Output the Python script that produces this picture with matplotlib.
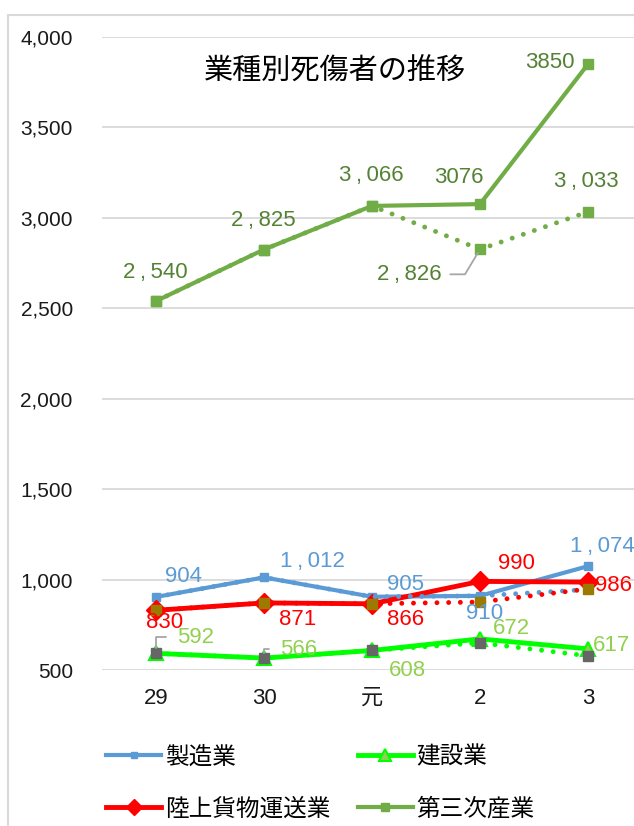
import numpy as np
import matplotlib.pyplot as plt
from matplotlib.patches import Rectangle
from matplotlib.ticker import FuncFormatter

plt.rcParams['font.family'] = ['Liberation Sans', 'Noto Sans CJK JP']

# ---------------- データ ----------------
years = ['29', '30', '元', '2', '3']

seizo = [904, 1012, 905, 910, 1074]
kensetsu = [592, 566, 608, 672, 617]
rikujo = [830, 871, 866, 990, 986]
sanji = [2540, 2825, 3066, 3076, 3850]

# 点線の系列
seizo_dot = [904, 1012, 905, 910, 945]
kensetsu_dot = [592, 566, 608, 650, 578]
rikujo_dot = [830, 871, 866, 876, 948]
sanji_dot = [2540, 2825, 3066, 2826, 3033]

names = ['製造業', '建設業', '陸上貨物運送業', '第三次産業']

# ラベル位置（マーカーからのずれ, px）
off_seizo = [(28, 20), (48, 16), (34, 12), (5, -18), (14, 20)]
off_kensetsu = [(41, 16), (36, 9), (35, -20), (31, 10), (24, 3)]
off_rikujo = [(9, -12), (34, -17), (34, -16), (36, 18), (26, -3)]
off_sanji = [(-1, 29), (-1, 29), (-1, 30), (-21, 27), (-38, 2)]
comma_sanji = [True, True, True, False, False]


def fmt(v, comma=True):
    if comma and v >= 1000:
        return '{:,}'.format(v).replace(',', '\u2009,\u2009')
    return str(v)


# ---------------- 描画 ----------------
fig = plt.figure(figsize=(6.34, 8.26), dpi=100)
ax = fig.add_axes([102/634, 1-670/826, 540/634, 633/826])
x = np.arange(len(years))

c_blue = '#5B9BD5'
c_lime = '#00FF00'
c_red = '#FF0000'
c_green = '#70AD47'
LS = 16

dot = (0, (0.01, 2.4))

l1, = ax.plot(x, seizo, color=c_blue, lw=3, marker='s', ms=6, zorder=3)
l2, = ax.plot(x, kensetsu, color=c_lime, lw=3.5, marker='^', ms=10,
              mfc='#92D050', mec=c_lime, mew=1.5, zorder=3)
l3, = ax.plot(x, rikujo, color=c_red, lw=3.5, marker='D', ms=10, zorder=3)
l4, = ax.plot(x, sanji, color=c_green, lw=3, marker='s', ms=7, zorder=3)

ax.plot(x, seizo_dot, color=c_blue, lw=3.5, ls=dot, dash_capstyle='round', zorder=4)
ax.plot(x, rikujo_dot, color=c_red, lw=3.5, ls=dot, dash_capstyle='round',
        marker='s', ms=7, mfc='#9C7A00', mec='#9C7A00', zorder=4)
ax.plot(x, kensetsu_dot, color=c_lime, lw=3.5, ls=dot, dash_capstyle='round',
        marker='s', ms=6.5, mfc='#666666', mec='#666666', zorder=4)
ax.plot(x, sanji_dot, color=c_green, lw=3.5, ls=dot, dash_capstyle='round',
        marker='s', ms=7, zorder=4)

# データラベル
def labels(vals, offs, color, commas=None):
    for i, (v, o) in enumerate(zip(vals, offs)):
        c = True if commas is None else commas[i]
        ax.annotate(fmt(v, c), (i, v), xytext=o, textcoords='offset pixels',
                    ha='center', va='center', fontsize=LS, color=color, zorder=6)

labels(seizo, off_seizo, c_blue)
labels(rikujo, off_rikujo, c_red)
labels(sanji, off_sanji, '#548235', comma_sanji)

# 建設業（29, 30 は引き出し線付き）
for i, (v, o) in enumerate(zip(kensetsu, off_kensetsu)):
    if i < 2:
        ax.annotate(fmt(v), (i, v), xytext=(o[0] - 20, o[1]), textcoords='offset pixels',
                    ha='left', va='center', fontsize=LS, color='#92D050', zorder=6,
                    arrowprops=dict(arrowstyle='-', color='#A6A6A6', lw=1.3,
                                    connectionstyle='angle,angleA=0,angleB=90,rad=0',
                                    relpos=(0, 0.5), shrinkA=6, shrinkB=4))
    else:
        ax.annotate(fmt(v), (i, v), xytext=o, textcoords='offset pixels',
                    ha='center', va='center', fontsize=LS, color='#92D050', zorder=6)

# 第三次産業 点線のラベル
ax.annotate(fmt(sanji_dot[3]), (3, sanji_dot[3]), xytext=(-38, -25), textcoords='offset pixels',
            ha='right', va='center', fontsize=LS, color='#548235', zorder=6,
            arrowprops=dict(arrowstyle='-', color='#A6A6A6', lw=1.3,
                            connectionstyle='angle,angleA=0,angleB=59,rad=0',
                            relpos=(1, 0.5), shrinkA=4, shrinkB=3))
ax.annotate(fmt(sanji_dot[4]), (4, sanji_dot[4]), xytext=(-2, 30), textcoords='offset pixels',
            ha='center', va='center', fontsize=LS, color='#548235', zorder=6)

# 軸
ax.set_xlim(-0.5, 4.5)
ax.set_ylim(500, 4000)
ax.set_yticks(range(500, 4001, 500))
ax.yaxis.set_major_formatter(FuncFormatter(lambda v, p: '{:,}'.format(int(v))))
ax.set_xticks(x)
ax.set_xticklabels(years)
ax.tick_params(axis='y', length=0, pad=21, labelsize=15, labelcolor='#1a1a1a')
ax.tick_params(axis='x', length=0, pad=13, labelsize=16, labelcolor='#1a1a1a')
ax.grid(axis='y', color='#D9D9D9', lw=1.3)
ax.set_axisbelow(True)
for s in ax.spines.values():
    s.set_visible(False)

fig.text(335/634, 1-72/826, '業種別死傷者の推移', ha='center', va='center', fontsize=21)

ax.legend([l1, l3, l2, l4], [names[0], names[2], names[1], names[3]], ncol=2,
          loc='upper left', bbox_to_anchor=(106/634, 1-746/826), bbox_transform=fig.transFigure,
          frameon=False, fontsize=17, handlelength=2.33, handletextpad=0.17,
          columnspacing=1.15, labelspacing=1.25, borderpad=0, borderaxespad=0,
          markerscale=0.8)

fig.add_artist(Rectangle((8/634, -0.1), 1.2, 1.1 - 15/826, transform=fig.transFigure,
                         fill=False, edgecolor='#D9D9D9', lw=1.5))

plt.savefig('out.png', dpi=100)
